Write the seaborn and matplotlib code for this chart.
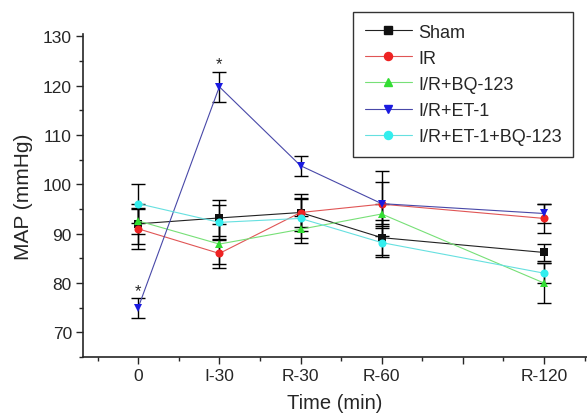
import numpy as np
import pandas as pd
import seaborn as sns
import matplotlib
matplotlib.use('Agg')
from matplotlib import pyplot as plt
from matplotlib.ticker import MultipleLocator
from matplotlib.lines import Line2D

# time points (plotted at 0,1,2,3,5 as in the original axis)
time_labels = ['0', 'I-30', 'R-30', 'R-60', '', 'R-120']
time_pos = [0, 1, 2, 3, 5]

groups = ['Sham', 'IR', 'I/R+BQ-123', 'I/R+ET-1', 'I/R+ET-1+BQ-123']
sham = [92.0, 93.2, 94.3, 89.2, 86.2]
ir = [91.0, 86.0, 94.3, 96.0, 93.1]
bq = [92.6, 87.9, 90.9, 94.0, 80.0]
et1 = [75.0, 119.8, 103.8, 96.1, 94.1]
et1_bq = [96.1, 92.3, 93.1, 88.2, 82.0]

sham_err = [4.0, 3.7, 3.7, 3.5, 1.8]
ir_err = [4.0, 3.0, 3.0, 4.5, 3.0]
bq_err = [2.6, 4.0, 2.7, 2.0, 4.0]
et1_err = [2.0, 3.0, 2.0, 6.6, 2.0]
et1_bq_err = [4.0, 3.6, 4.0, 3.0, 2.0]

colors = ['#111111', '#ee2222', '#33dd33', '#1a1ae0', '#33eeee']
line_colors = ['#222222', '#e05555', '#77e077', '#4848a8', '#66e0e0']
markers = ['s', 'o', '^', 'v', 'o']

vals = [sham, ir, bq, et1, et1_bq]
errs = [sham_err, ir_err, bq_err, et1_err, et1_bq_err]

df = pd.DataFrame({
    'time': time_pos * len(groups),
    'MAP': sum(vals, []),
    'err': sum(errs, []),
    'group': [g for g in groups for _ in time_pos],
})

sns.set_style('ticks')
plt.rcParams['font.family'] = ['Liberation Sans', 'DejaVu Sans']

fig = plt.figure(figsize=(5.87, 4.14), dpi=100)
ax = fig.add_axes([83 / 587, 56 / 414, 1 - 83 / 587, (358 - 35) / 414])

# error bars first (black caps)
for g in groups:
    d = df[df.group == g]
    ax.errorbar(d.time, d.MAP, yerr=d.err, fmt='none', ecolor='black',
                elinewidth=1.0, capsize=5, capthick=1.0, zorder=2)

sns.lineplot(data=df, x='time', y='MAP', hue='group', style='group',
             palette=dict(zip(groups, line_colors)),
             markers=dict(zip(groups, markers)), dashes=False,
             linewidth=0.8, markersize=5.8, markeredgewidth=0,
             ax=ax, legend=False, zorder=3)

# saturated marker colours
for line, c in zip(ax.get_lines()[-len(groups):], colors):
    line.set_markerfacecolor(c)
    line.set_markeredgecolor(c)

# asterisks
ax.text(0, 77.0, '*', ha='center', va='bottom', fontsize=12)
ax.text(1, 123.0, '*', ha='center', va='bottom', fontsize=12)

ax.set_xlim(-0.68, 5.53)
ax.set_ylim(65, 130.5)
ax.set_xticks([0, 1, 2, 3, 4, 5])
ax.set_xticklabels(time_labels)
ax.xaxis.set_minor_locator(MultipleLocator(0.5))
ax.set_yticks(np.arange(70, 131, 10))
ax.yaxis.set_minor_locator(MultipleLocator(5))
ax.tick_params(axis='both', which='major', length=5, width=1.0, labelsize=12.5, pad=3)
ax.tick_params(axis='both', which='minor', length=3, width=1.0)
for s in ['left', 'bottom']:
    ax.spines[s].set_linewidth(1.2)
sns.despine(ax=ax)
ax.set_xlabel('Time (min)', fontsize=14.5, labelpad=7)
ax.set_ylabel('MAP (mmHg)', fontsize=15, labelpad=7)

# legend box
handles = [Line2D([], [], color=lc, marker=m, markerfacecolor=c, markeredgecolor=c,
                  markersize=5.8, linewidth=0.8)
           for lc, c, m in zip(line_colors, colors, markers)]
leg = fig.legend(handles, groups, loc='upper left', bbox_to_anchor=(353 / 587, 1 - 13 / 414),
                 fontsize=13, frameon=True, fancybox=False, edgecolor='black',
                 handlelength=2.6, handletextpad=0.35, labelspacing=0.5,
                 borderpad=0.65, borderaxespad=0)
leg.get_frame().set_linewidth(1.0)

fig.savefig('out.png', dpi=100)
